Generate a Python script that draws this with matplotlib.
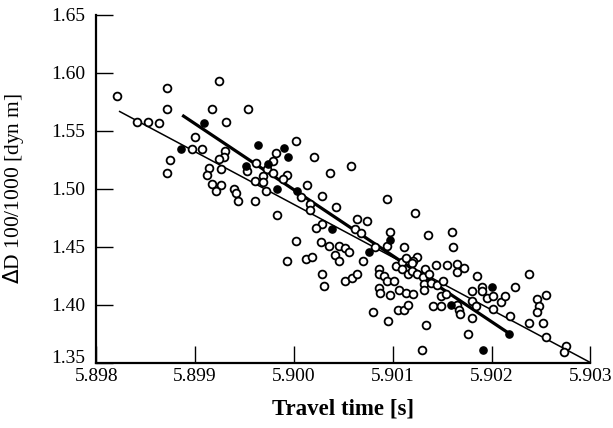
import numpy as np
import matplotlib
matplotlib.use("Agg")
import matplotlib.pyplot as plt
from matplotlib.transforms import ScaledTranslation

# travel time [s] and dynamic height anomaly for the routine casts (open circles)
open_t = [
    5.89821, 5.89872, 5.89872, 5.89924, 5.89917, 5.89931, 5.89954, 5.89841, 5.89852, 5.89864,
    5.89900, 5.89897, 5.89907, 5.89875, 5.89872, 5.89930, 5.89929, 5.89924, 5.89914, 5.89912,
    5.89926, 5.89917, 5.89926, 5.89921, 5.89939, 5.89941, 5.89943, 5.90002, 5.89982, 5.89979,
    5.89962, 5.89953, 5.89973, 5.89979, 5.89969, 5.89993, 5.89989, 5.89961, 5.89969, 5.89972,
    5.90013, 5.90020, 5.90037, 5.90058, 5.90007, 5.90028, 5.90094, 5.89961, 5.90016, 5.90016,
    5.90043, 5.89983, 5.90028, 5.90022, 5.90064, 5.90062, 5.90002, 5.90027, 5.90036, 5.90046,
    5.90052, 5.90056, 5.90042, 5.90046, 5.89993, 5.90012, 5.90018, 5.90028, 5.90030, 5.90052,
    5.90059, 5.90064, 5.90123, 5.90074, 5.90068, 5.90097, 5.90094, 5.90136, 5.90160, 5.90161,
    5.90111, 5.90082, 5.90070, 5.90125, 5.90121, 5.90103, 5.90109, 5.90113, 5.90120, 5.90144,
    5.90155, 5.90165, 5.90165, 5.90172, 5.90185, 5.90238, 5.90086, 5.90086, 5.90091, 5.90094,
    5.90101, 5.90109, 5.90116, 5.90120, 5.90125, 5.90131, 5.90133, 5.90137, 5.90132, 5.90139,
    5.90145, 5.90151, 5.90086, 5.90087, 5.90097, 5.90106, 5.90113, 5.90121, 5.90132, 5.90149,
    5.90154, 5.90080, 5.90095, 5.90105, 5.90111, 5.90115, 5.90141, 5.90149, 5.90134, 5.90130,
    5.90165, 5.90167, 5.90168, 5.90180, 5.90176, 5.90180, 5.90190, 5.90190, 5.90195, 5.90202,
    5.90210, 5.90214, 5.90180, 5.90184, 5.90202, 5.90219, 5.90224, 5.90246, 5.90255, 5.90248,
    5.90246, 5.90238, 5.90252, 5.90255, 5.90275, 5.90273,
]
open_d = [
    1.580, 1.587, 1.569, 1.593, 1.569, 1.558, 1.569, 1.558, 1.558, 1.557,
    1.545, 1.534, 1.534, 1.525, 1.514, 1.533, 1.527, 1.526, 1.518, 1.512,
    1.517, 1.504, 1.503, 1.498, 1.500, 1.496, 1.489, 1.541, 1.531, 1.524,
    1.522, 1.515, 1.517, 1.514, 1.511, 1.512, 1.508, 1.507, 1.506, 1.498,
    1.503, 1.527, 1.514, 1.520, 1.493, 1.494, 1.491, 1.489, 1.487, 1.482,
    1.484, 1.477, 1.470, 1.466, 1.474, 1.465, 1.455, 1.454, 1.451, 1.451,
    1.449, 1.445, 1.443, 1.438, 1.438, 1.439, 1.441, 1.426, 1.416, 1.420,
    1.423, 1.426, 1.479, 1.472, 1.462, 1.463, 1.451, 1.460, 1.463, 1.450,
    1.450, 1.450, 1.438, 1.441, 1.438, 1.433, 1.437, 1.440, 1.436, 1.434,
    1.434, 1.435, 1.428, 1.432, 1.425, 1.426, 1.431, 1.426, 1.425, 1.420,
    1.420, 1.431, 1.426, 1.429, 1.426, 1.424, 1.431, 1.426, 1.418, 1.419,
    1.417, 1.420, 1.414, 1.410, 1.408, 1.413, 1.410, 1.409, 1.413, 1.407,
    1.409, 1.394, 1.386, 1.395, 1.395, 1.400, 1.399, 1.399, 1.382, 1.361,
    1.400, 1.395, 1.392, 1.388, 1.375, 1.412, 1.415, 1.412, 1.406, 1.407,
    1.402, 1.407, 1.403, 1.399, 1.396, 1.390, 1.415, 1.405, 1.408, 1.399,
    1.394, 1.384, 1.384, 1.372, 1.364, 1.359,
]

# the selected casts (filled circles)
filled_t = [5.89909, 5.89886, 5.89964, 5.89990, 5.89994, 5.89952, 5.89974, 5.89983,
            5.90003, 5.90039, 5.90097, 5.90076, 5.90159, 5.90200, 5.90218, 5.90191]
filled_d = [1.557, 1.534, 1.538, 1.535, 1.527, 1.520, 1.521, 1.500,
            1.498, 1.465, 1.456, 1.445, 1.400, 1.415, 1.375, 1.361]

# regression lines: all casts (thin), selected casts (thick)
fit_all_t = [5.89823, 5.90300]
fit_all_d = [1.567, 1.350]
fit_sel_t = [5.89887, 5.90218]
fit_sel_d = [1.5635, 1.375]

x_ticks = [5.898, 5.899, 5.900, 5.901, 5.902, 5.903]
y_ticks = [1.35, 1.40, 1.45, 1.50, 1.55, 1.60, 1.65]

plt.rcParams['font.family'] = ['Liberation Serif', 'DejaVu Serif']

fig = plt.figure(figsize=(6.13, 4.28), dpi=100)
ax = fig.add_axes([0.157, 0.153, 0.806, 0.812])

ax.plot(fit_all_t, fit_all_d, color='black', lw=1.1, zorder=2, solid_capstyle='butt')
ax.plot(fit_sel_t, fit_sel_d, color='black', lw=2.3, zorder=2, solid_capstyle='butt')
ax.plot(open_t, open_d, 'o', ms=5.6, mfc='white', mec='black', mew=1.3, zorder=3, ls='none')
ax.plot(filled_t, filled_d, 'o', ms=5.2, mfc='black', mec='black', mew=1.0, zorder=4, ls='none')

ax.set_xlim(5.898, 5.903)
ax.set_ylim(1.35, 1.65)
ax.set_xticks(x_ticks)
ax.set_xticklabels(['%.3f' % t for t in x_ticks])
ax.set_yticks(y_ticks)
ax.set_yticklabels(['%.2f' % v for v in y_ticks])

for side in ('top', 'right'):
    ax.spines[side].set_visible(False)
for side in ('left', 'bottom'):
    ax.spines[side].set_linewidth(1.6)

ax.tick_params(direction='in', length=12, width=1.0, labelsize=14, pad=4)
ax.tick_params(axis='y', pad=8)

# lift the lowest y label so it clears the first x label
lowest = ax.get_yticklabels()[0]
lowest.set_transform(lowest.get_transform() + ScaledTranslation(0, 4 / 72, fig.dpi_scale_trans))

ax.set_xlabel('Travel time [s]', fontsize=16.5, fontweight='bold', labelpad=10)
ax.set_ylabel('$\\Delta$D 100/1000 [dyn m]', fontsize=15.5)
ax.yaxis.set_label_coords(-0.142, 0.5)

fig.savefig('out.png', dpi=100)
